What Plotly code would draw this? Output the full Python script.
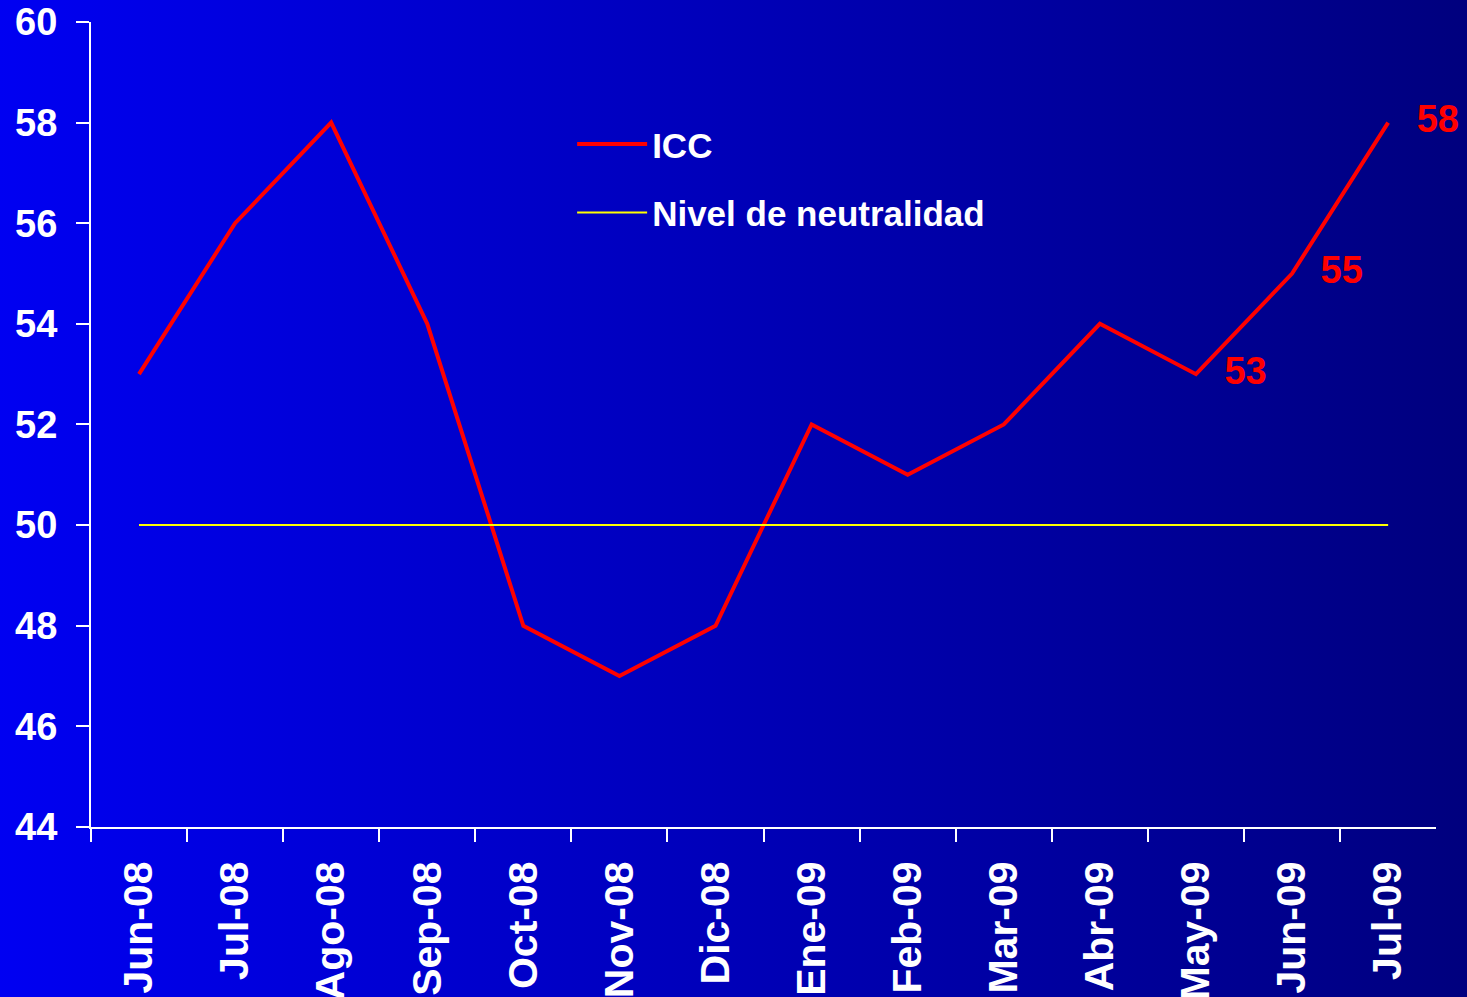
import base64
import plotly.graph_objects as go

# datos del grafico
meses = ["Jun-08", "Jul-08", "Ago-08", "Sep-08", "Oct-08", "Nov-08", "Dic-08",
         "Ene-09", "Feb-09", "Mar-09", "Abr-09", "May-09", "Jun-09", "Jul-09"]
icc = [53, 56, 58, 54, 48, 47, 48, 52, 51, 52, 54, 53, 55, 58]
neutralidad = [50] * len(meses)
etiquetas = [""] * 11 + ["53", "55", "58"]

FONT = "Arial, Liberation Sans, sans-serif"

# fondo degradado azul -> azul marino
svg = ('<svg xmlns="http://www.w3.org/2000/svg" width="1467" height="997">'
       '<defs><linearGradient id="g" x1="0" y1="0" x2="1" y2="0">'
       '<stop offset="0" stop-color="#0000F2"/><stop offset="1" stop-color="#00007E"/>'
       '</linearGradient></defs><rect width="1467" height="997" fill="url(#g)"/></svg>')
fondo = "data:image/svg+xml;base64," + base64.b64encode(svg.encode()).decode()

fig = go.Figure()

fig.add_trace(go.Scatter(
    x=meses, y=icc, mode="lines", name="ICC",
    line=dict(color="#FF0000", width=4), legendgroup="a"
))
fig.add_trace(go.Scatter(
    x=meses, y=neutralidad, mode="lines", name="Nivel de neutralidad",
    line=dict(color="#FFFF00", width=2), legendgroup="b"
))
# etiquetas de los ultimos valores
fig.add_trace(go.Scatter(
    x=meses, y=icc, mode="markers+text", text=etiquetas,
    textposition="middle right", showlegend=False, cliponaxis=False,
    marker=dict(size=44, color="rgba(0,0,0,0)"),
    textfont=dict(color="#FF0000", size=38, family=FONT, weight="bold"),
    hoverinfo="skip"
))

eje = dict(showline=True, linecolor="white", linewidth=2, ticks="outside",
           tickcolor="white", tickwidth=2, ticklen=13, showgrid=False,
           zeroline=False, automargin=False)

fig.update_layout(
    width=1467, height=997,
    margin=dict(l=0, r=0, t=0, b=0),
    paper_bgcolor="#0000C0", plot_bgcolor="rgba(0,0,0,0)",
    images=[dict(source=fondo, xref="paper", yref="paper", x=0, y=1,
                 sizex=1, sizey=1, sizing="stretch", layer="below",
                 xanchor="left", yanchor="top")],
    xaxis=dict(eje, domain=[0.062, 0.979], range=[-0.5, len(meses) - 0.5],
               tickson="boundaries", tickangle=-90, ticklabelstandoff=16,
               tickfont=dict(color="white", size=41, family=FONT, weight="bold")),
    yaxis=dict(eje, domain=[0.1705, 0.978], range=[44, 60], dtick=2,
               ticklabelstandoff=11,
               tickfont=dict(color="white", size=38, family=FONT, weight="bold")),
    showlegend=True,
    legend=dict(x=0.39, y=0.885, xanchor="left", yanchor="top",
                bgcolor="rgba(0,0,0,0)", itemwidth=70, tracegroupgap=20,
                font=dict(color="white", size=35, family=FONT, weight="bold")),
)

fig.write_html("out.html", config={"displayModeBar": False},
               post_script="document.body.style.margin='0';")
